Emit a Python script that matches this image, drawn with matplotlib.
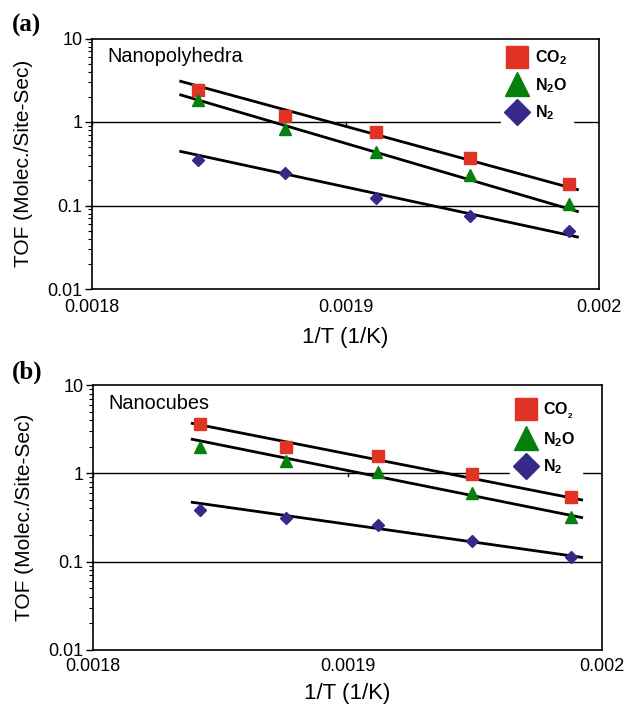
import numpy as np
import matplotlib
matplotlib.use('Agg')
import matplotlib.pyplot as plt

plt.rcParams['font.family'] = ['Liberation Sans', 'DejaVu Sans']
plt.rcParams['mathtext.default'] = 'regular'

# 1/T values (1/K)
invT = [0.001842, 0.001876, 0.001912, 0.001949, 0.001988]

# TOF, nanopolyhedra
poly_co2 = [2.43, 1.17, 0.76, 0.37, 0.18]
poly_n2o = [1.81, 0.82, 0.44, 0.23, 0.104]
poly_n2 = [0.35, 0.243, 0.123, 0.074, 0.050]

# TOF, nanocubes
cube_co2 = [3.6, 2.0, 1.57, 0.98, 0.54]
cube_n2o = [1.97, 1.37, 1.03, 0.60, 0.32]
cube_n2 = [0.385, 0.31, 0.26, 0.17, 0.112]

# trend lines (start, end)
poly_fit_x = [0.001835, 0.0019915]
poly_fit_co2 = [3.07, 0.155]
poly_fit_n2o = [2.11, 0.085]
poly_fit_n2 = [0.444, 0.042]

cube_fit_x = [0.001839, 0.001992]
cube_fit_co2 = [3.68, 0.50]
cube_fit_n2o = [2.43, 0.316]
cube_fit_n2 = [0.47, 0.112]

xticks = [0.0018, 0.0019, 0.002]
xticklabels = ['0.0018', '0.0019', '0.002']
yticks = [0.01, 0.1, 1, 10]
yticklabels = ['0.01', '0.1', '1', '10']

RED = '#e03325'
GREEN = '#067f0e'
BLUE = '#352a8a'

W, H = 632, 707


def panel(rect, title, letter, co2, n2o, n2, fx, fco2, fn2o, fn2, co2label,
          leg_anchor, xpad, xlabpad):
    l, t, r, b = rect
    ax = fig.add_axes([l / W, 1 - b / H, (r - l) / W, (b - t) / H])
    ax.set_yscale('log')
    ax.set_xlim(0.0018, 0.002)
    ax.set_ylim(0.01, 10)

    # gridline at 0.1, axis line at 1
    ax.axhline(0.1, color='black', lw=1.0, zorder=1)
    ax.axhline(1, color='black', lw=1.0, zorder=1)
    for xt in xticks:
        ax.plot([xt, xt], [1, 0.93], color='black', lw=1.0, zorder=1)

    for v in (fco2, fn2o, fn2):
        ax.plot(fx, v, color='black', lw=2.0, zorder=3)

    h1, = ax.plot(invT, co2, 's', color=RED, ms=8, mec=RED, zorder=4, label=co2label)
    h2, = ax.plot(invT, n2o, '^', color=GREEN, ms=8.5, mec=GREEN, zorder=4, label='N$_2$O')
    h3, = ax.plot(invT, n2, 'D', color=BLUE, ms=6.5, mec=BLUE, zorder=4, label='N$_2$')

    leg = ax.legend(handles=[h1, h2, h3], loc='upper right', bbox_to_anchor=leg_anchor,
                    frameon=True, fancybox=False, framealpha=1, edgecolor='white',
                    facecolor='white', markerscale=2.0, handlelength=1.2,
                    handletextpad=0.5, labelspacing=0.55, borderpad=0.4,
                    prop={'size': 11.5, 'weight': 'bold'})
    leg.set_zorder(2.2)

    ax.set_xticks(xticks)
    ax.set_xticklabels(xticklabels)
    ax.set_yticks(yticks)
    ax.set_yticklabels(yticklabels)
    ax.yaxis.set_minor_locator(matplotlib.ticker.LogLocator(base=10, subs=np.arange(2, 10)))
    ax.yaxis.set_minor_formatter(matplotlib.ticker.NullFormatter())
    ax.tick_params(axis='x', length=0, pad=xpad, labelsize=13)
    ax.tick_params(axis='y', which='major', direction='out', length=5, width=1, pad=2, labelsize=13)
    ax.tick_params(axis='y', which='minor', direction='out', length=3, width=0.8)
    for s in ax.spines.values():
        s.set_linewidth(1.2)
        s.set_zorder(2.6)

    ax.set_xlabel('1/T (1/K)', fontsize=16, labelpad=xlabpad)
    ax.set_ylabel('TOF (Molec./Site-Sec)', fontsize=15, labelpad=10.5)
    ax.text(0.03, 0.93, title, transform=ax.transAxes, fontsize=14.3, va='center', ha='left')
    fig.text(12 / W, 1 - (t - 13) / H, letter, fontsize=18, fontweight='bold',
             family=['Liberation Serif', 'DejaVu Serif'], va='center', ha='left')
    return ax


fig = plt.figure(figsize=(W / 100, H / 100), dpi=100)

panel((92, 38.5, 599, 289), 'Nanopolyhedra', '(a)', poly_co2, poly_n2o, poly_n2,
      poly_fit_x, poly_fit_co2, poly_fit_n2o, poly_fit_n2, 'CO$_2$', (0.965, 1.018),
      7.5, 7.5)
panel((93, 385, 602, 650), 'Nanocubes', '(b)', cube_co2, cube_n2o, cube_n2,
      cube_fit_x, cube_fit_co2, cube_fit_n2o, cube_fit_n2, 'CO$_{_{2}}$', (0.976, 0.995),
      6.0, 5.5)

fig.savefig('out.png', dpi=100)
